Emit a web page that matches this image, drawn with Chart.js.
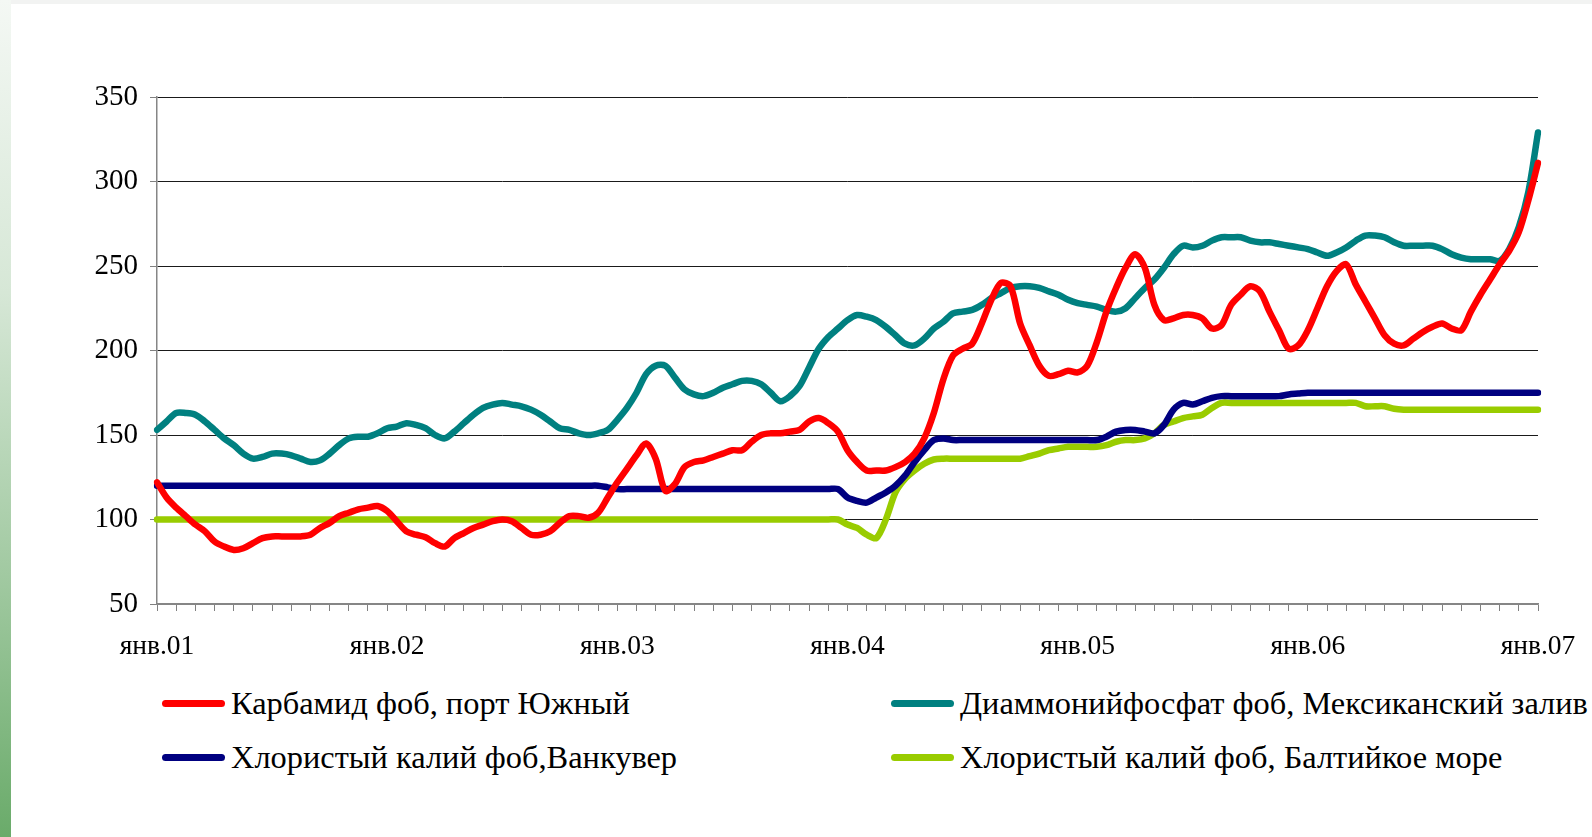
<!DOCTYPE html>
<html lang="ru">
<head>
<meta charset="utf-8">
<title>Цены на удобрения</title>
<script src="https://cdn.jsdelivr.net/npm/chart.js@4.4.1/dist/chart.umd.min.js"></script>
<style>
  html, body { margin: 0; padding: 0; background: #fff; }
  body { width: 1592px; height: 837px; overflow: hidden; position: relative;
         font-family: 'Liberation Serif', 'Times New Roman', serif; }
  .topband { position: absolute; left: 0; top: 0; width: 1592px; height: 4px; background: #f2f3f2; }
  .sidebar { position: absolute; left: 0; top: 0; width: 11px; height: 837px;
             background: linear-gradient(#f4f8f4 0%, #d6e7d6 35%, #9fc89f 70%, #6aab6a 100%); }
  .chart-box { position: absolute; left: 0; top: 0; width: 1592px; height: 680px; }
  .legend { position: absolute; left: 162px; top: 682px; display: grid;
            grid-template-columns: 729px auto; row-gap: 12px; }
  .legend-item { display: flex; align-items: center; height: 42px; white-space: nowrap;
                 font-size: 32.4px; color: #000; }
  .legend-swatch { width: 63px; height: 7px; border-radius: 4px; margin-right: 6px; flex: none; }
</style>
</head>
<body>
<div class="topband"></div>
<div class="sidebar"></div>
<div class="chart-box"><canvas id="priceChart"></canvas></div>
<div class="legend" id="legend"></div>

<script>
// year tick labels (every 24 half-month steps)
const yearLabels = ['янв.01', 'янв.02', 'янв.03', 'янв.04', 'янв.05', 'янв.06', 'янв.07'];

const seriesNames = [
    'Карбамид фоб, порт Южный',
    'Диаммонийфосфат фоб, Мексиканский залив',
    'Хлористый калий фоб,Ванкувер',
    'Хлористый калий фоб, Балтийкое море'
];
const seriesColors = ['#ff0000', '#008080', '#000080', '#99cc00'];

// values read at half-month steps, янв.01 .. янв.07
const urea = [
    122, 113, 107, 102, 97, 93, 87, 84, 82, 83, 86, 89, 90, 90, 90, 90, 91, 95, 98, 102, 104, 106, 107, 108,
    105, 99, 93, 91, 89.5, 86, 84, 89, 92, 95, 97, 99, 100, 99, 95, 91, 91, 93, 98, 102, 102, 101, 104, 113,
    122, 130, 138, 145, 136, 117, 121, 131, 134, 135, 137, 139, 141, 141, 146, 150, 151, 151, 152, 153, 158, 160, 157, 152,
    141, 134, 129, 129, 129, 131, 134, 139, 148, 163, 183, 197, 201, 204, 216, 230, 240, 238, 216, 203, 191, 185, 186, 188,
    187, 191, 205, 223, 237, 249, 257, 249, 227, 218, 219, 221, 221, 219, 213, 215, 227, 233, 238, 235, 223, 212, 201, 203,
    212, 225, 238, 247, 251, 239, 229, 219, 209, 204, 203, 207, 211, 214, 216, 213, 212, 223, 233, 242, 251, 259, 270, 289,
    311
];

const dap = [
    153, 158, 163, 163, 162, 158, 153, 148, 144, 139, 136, 137, 139, 139, 138, 136, 134, 135, 139, 144, 148, 149, 149, 151,
    154, 155, 157, 156, 154, 150, 148, 152, 157, 162, 166, 168, 169, 168, 167, 165, 162, 158, 154, 153, 151, 150, 151, 153,
    159, 166, 175, 186, 191, 191, 184, 177, 174, 173, 175, 178, 180, 182, 182, 180, 175, 170, 173, 179, 190, 201, 208, 213,
    218, 221, 220, 218, 214, 209, 204, 203, 207, 213, 217, 222, 223, 224, 227, 231, 234, 237, 238, 238, 237, 235, 233, 230,
    228, 227, 226, 224, 223, 225, 231, 237, 242, 249, 257, 262, 261, 262, 265, 267, 267, 267, 265, 264, 264, 263, 262, 261,
    260, 258, 256, 258, 261, 265, 268, 268, 267, 264, 262, 262, 262, 262, 260, 257, 255, 254, 254, 254, 253, 260, 273, 294,
    329
];

const potashVancouver = [
    120, 120, 120, 120, 120, 120, 120, 120, 120, 120, 120, 120, 120, 120, 120, 120, 120, 120, 120, 120, 120, 120, 120, 120,
    120, 120, 120, 120, 120, 120, 120, 120, 120, 120, 120, 120, 120, 120, 120, 120, 120, 120, 120, 120, 120, 120, 120, 119,
    118, 118, 118, 118, 118, 118, 118, 118, 118, 118, 118, 118, 118, 118, 118, 118, 118, 118, 118, 118, 118, 118, 118, 118,
    113, 111, 110, 113, 116, 120, 126, 134, 141, 147, 148, 147, 147, 147, 147, 147, 147, 147, 147, 147, 147, 147, 147, 147,
    147, 147, 147, 149, 152, 153, 153, 152, 151, 156, 165, 169, 168, 170, 172, 173, 173, 173, 173, 173, 173, 173, 174, 174.5,
    175, 175, 175, 175, 175, 175, 175, 175, 175, 175, 175, 175, 175, 175, 175, 175, 175, 175, 175, 175, 175, 175, 175, 175,
    175
];

const potashBaltic = [
    100, 100, 100, 100, 100, 100, 100, 100, 100, 100, 100, 100, 100, 100, 100, 100, 100, 100, 100, 100, 100, 100, 100, 100,
    100, 100, 100, 100, 100, 100, 100, 100, 100, 100, 100, 100, 100, 100, 100, 100, 100, 100, 100, 100, 100, 100, 100, 100,
    100, 100, 100, 100, 100, 100, 100, 100, 100, 100, 100, 100, 100, 100, 100, 100, 100, 100, 100, 100, 100, 100, 100, 100,
    97, 95, 91, 89, 100, 116, 124, 129, 133, 135.5, 136, 136, 136, 136, 136, 136, 136, 136, 136, 137.5, 139, 141, 142, 143,
    143, 143, 143, 144, 146, 147, 147, 148, 151, 156, 158, 160, 161, 162, 166, 169, 169, 169, 169, 169, 169, 169, 169, 169,
    169, 169, 169, 169, 169, 169, 167, 167, 167, 165.5, 165, 165, 165, 165, 165, 165, 165, 165, 165, 165, 165, 165, 165, 165,
    165
];

const yTicks = [50, 100, 150, 200, 250, 300, 350];

document.addEventListener('DOMContentLoaded', function () {

    // one category per half month, label only on January
    const categories = urea.map(function (v, i) {
        return i % 24 === 0 ? yearLabels[i / 24] : '';
    });

    const allSeries = [urea, dap, potashVancouver, potashBaltic];

    const datasets = allSeries.map(function (values, i) {
        return {
            label: seriesNames[i],
            data: values,
            borderColor: seriesColors[i],
            backgroundColor: seriesColors[i],
            borderWidth: 6.5,
            pointRadius: 0,
            tension: .3,
            borderCapStyle: 'round',
            borderJoinStyle: 'round',
            fill: false,
            order: i
        };
    });

    Chart.defaults.font.family = "'Liberation Serif', 'Times New Roman', serif";
    Chart.defaults.color = '#000';

    const ctx = document.getElementById('priceChart').getContext('2d');

    new Chart(ctx, {
        type: 'line',
        data: {
            labels: categories,
            datasets: datasets
        },
        options: {
            responsive: true,
            maintainAspectRatio: false,
            animation: false,
            layout: {
                padding: { left: 0, top: 97, right: 54, bottom: 0 }
            },
            plugins: {
                legend: { display: false },
                tooltip: { enabled: false }
            },
            scales: {
                x: {
                    type: 'category',
                    offset: false,
                    afterFit: function (scale) {
                        scale.height = 76;
                        // the end labels fit inside the padding, no extra room needed
                        scale.paddingLeft = 0;
                        scale.paddingRight = 0;
                    },
                    ticks: {
                        autoSkip: false,
                        maxRotation: 0,
                        minRotation: 0,
                        padding: 19,
                        font: { size: 27.5 },
                        color: '#000'
                    },
                    grid: {
                        drawOnChartArea: false,
                        drawTicks: true,
                        tickLength: 7,
                        tickWidth: 1,
                        tickColor: function (c) {
                            return c.index % 2 === 0 ? '#808080' : 'rgba(0,0,0,0)';
                        }
                    },
                    border: { display: true, color: '#868686', width: 1.5 }
                },
                y: {
                    min: 50,
                    max: 350,
                    afterFit: function (scale) { scale.width = 157; },
                    afterBuildTicks: function (scale) {
                        scale.ticks = yTicks.map(function (v) { return { value: v }; });
                    },
                    ticks: {
                        padding: 12,
                        font: { size: 29 },
                        color: '#000'
                    },
                    grid: {
                        color: function (c) {
                            return c.tick && c.tick.value === 50 ? '#868686' : '#1a1a1a';
                        },
                        lineWidth: 1,
                        drawTicks: true,
                        tickLength: 7,
                        tickColor: '#808080'
                    },
                    border: { display: true, color: '#868686', width: 1.5 }
                }
            }
        }
    });

    // legend laid out as two columns, like the original
    const legend = document.getElementById('legend');
    seriesNames.forEach(function (name, i) {
        const item = document.createElement('div');
        item.className = 'legend-item';
        const sw = document.createElement('span');
        sw.className = 'legend-swatch';
        sw.style.background = seriesColors[i];
        const txt = document.createElement('span');
        txt.textContent = name;
        item.appendChild(sw);
        item.appendChild(txt);
        legend.appendChild(item);
    });

});
</script>
</body>
</html>
